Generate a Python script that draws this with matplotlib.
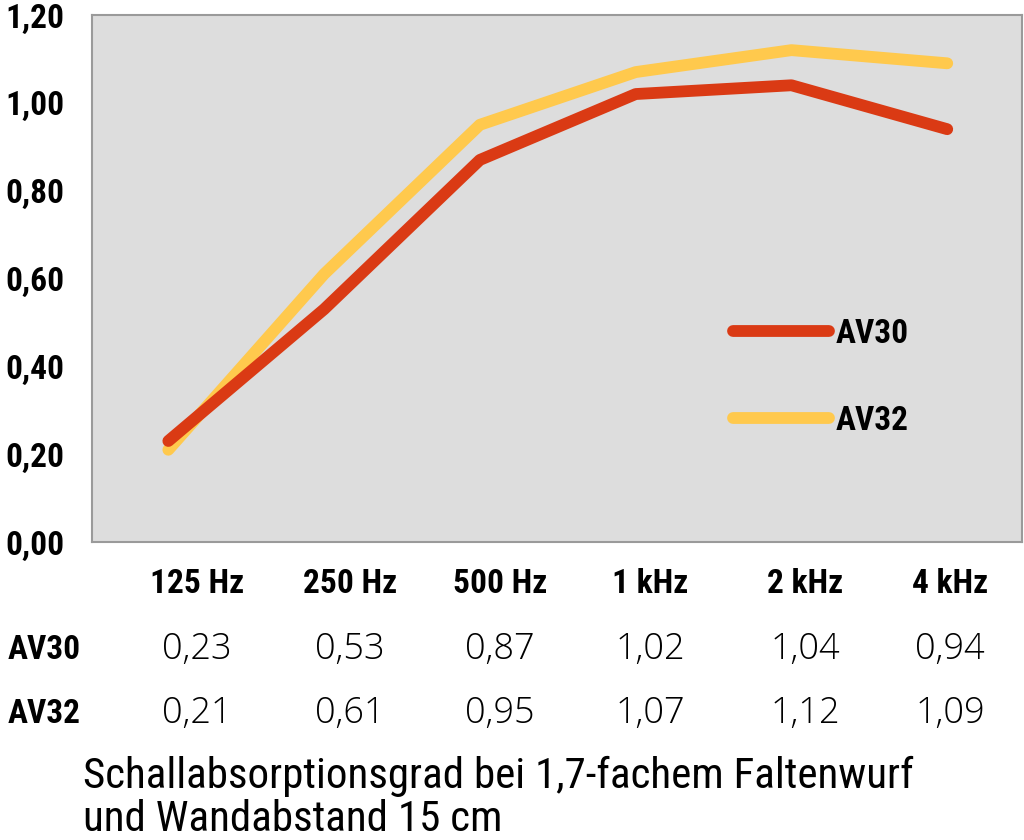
import matplotlib.pyplot as plt
from matplotlib import font_manager

# -----------------------------
# Daten
# -----------------------------
frequencies = ["125 Hz", "250 Hz", "500 Hz", "1 kHz", "2 kHz", "4 kHz"]
av30 = [0.23, 0.53, 0.87, 1.02, 1.04, 0.94]
av32 = [0.21, 0.61, 0.95, 1.07, 1.12, 1.09]
y_ticks = [0.0, 0.2, 0.4, 0.6, 0.8, 1.0, 1.2]
caption = "Schallabsorptionsgrad bei 1,7-fachem Faltenwurf\nund Wandabstand 15 cm"

RED = "#DA3A14"
YELLOW = "#FFC94D"

# Schmale Schrift suchen, falls vorhanden
names = {f.name for f in font_manager.fontManager.ttflist}
narrow = "DejaVu Sans"
for cand in ["Liberation Sans Narrow", "DejaVu Sans Condensed", "Roboto Condensed"]:
    if cand in names:
        narrow = cand
        break

bold = dict(family=narrow, weight="bold", fontsize=24, stretch="condensed")
light = dict(family="Open Sans", weight="light", fontsize=26)

fig = plt.figure(figsize=(10.24, 8.4), dpi=100)
ax = fig.add_axes([92 / 1024, 1 - 542 / 840, 930 / 1024, 527 / 840])
ax.set_facecolor("#DDDDDD")
for s in ax.spines.values():
    s.set_color("#9A9A9A")
    s.set_linewidth(1.5)

x = list(range(len(frequencies)))
ax.plot(x, av30, color=RED, lw=8.5, solid_capstyle="round", solid_joinstyle="round", label="AV30", zorder=3)
ax.plot(x, av32, color=YELLOW, lw=8.5, solid_capstyle="round", solid_joinstyle="round", label="AV32", zorder=2)

ax.set_xlim(-0.49, 5.48)
ax.set_ylim(0, 1.2)
ax.set_xticks([])
ax.set_yticks(y_ticks)
ax.set_yticklabels([f"{v:.2f}".replace(".", ",") for v in y_ticks], **bold)
ax.tick_params(axis="y", length=0, pad=20)

leg = ax.legend(loc="center left", bbox_to_anchor=(0.689, 0.312), frameon=False,
                borderpad=0, borderaxespad=0,
                handlelength=2.9, handletextpad=0.2, labelspacing=1.65,
                prop=font_manager.FontProperties(family=narrow, weight="bold", size=24, stretch="condensed"))
for line in leg.get_lines():
    line.set_linewidth(8.5)
    line.set_solid_capstyle("round")

# Tabelle unter dem Diagramm
col_x = [197, 350, 500, 650, 805, 950]
for cx, lab in zip(col_x, frequencies):
    fig.text(cx / 1024, 1 - 584 / 840, lab, ha="center", va="center", **bold)
for row_y, name, vals in [(650, "AV30", av30), (714, "AV32", av32)]:
    fig.text(8 / 1024, 1 - row_y / 840, name, ha="left", va="center", **bold)
    for cx, v in zip(col_x, vals):
        fig.text(cx / 1024, 1 - row_y / 840, f"{v:.2f}".replace(".", ","), ha="center", va="center", **light)

fig.text(83 / 1024, 1 - 798 / 840, caption, ha="left", va="center", family=narrow,
         fontsize=31, stretch="condensed", linespacing=1.08)

fig.savefig("out.png", dpi=100)
